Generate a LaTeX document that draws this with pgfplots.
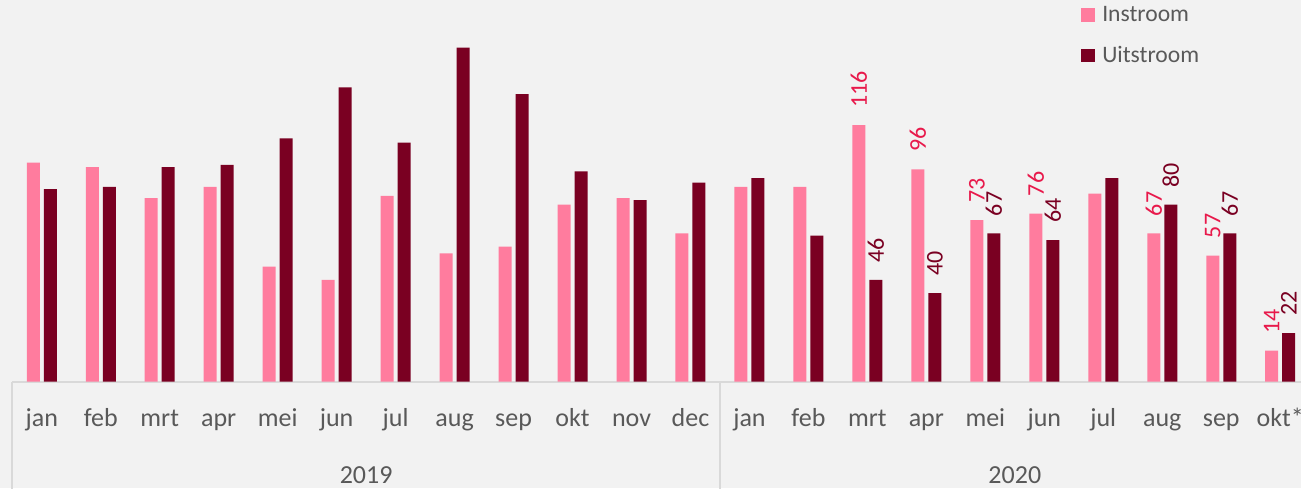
\documentclass[border=0pt]{standalone}
\usepackage{pgfplots}
\usepackage{pgfplotstable}
\pgfplotsset{compat=1.18}
\usepackage{fontspec}
\setmainfont{Carlito}
\definecolor{bg}{HTML}{F2F2F2}
\definecolor{pinkbar}{HTML}{FF7C9E}
\definecolor{darkbar}{HTML}{7A0022}
\definecolor{pinklab}{HTML}{E8194B}
\definecolor{darklab}{HTML}{7A0022}
\definecolor{txt}{HTML}{595959}
\definecolor{linec}{HTML}{D9D9D9}

\pgfplotstableread{
x in inl out outl
0 99 {} 87 {}
1 97 {} 88 {}
2 83 {} 97 {}
3 88 {} 98 {}
4 52 {} 110 {}
5 46 {} 133 {}
6 84 {} 108 {}
7 58 {} 151 {}
8 61 {} 130 {}
9 80 {} 95 {}
10 83 {} 82 {}
11 67 {} 90 {}
12 88 {} 92 {}
13 88 {} 66 {}
14 116 116 46 46
15 96 96 40 40
16 73 73 67 67
17 76 76 64 64
18 85 {} 92 {}
19 67 67 80 80
20 57 57 67 67
21 14 14 22 22
}\data

\begin{document}
\begin{tikzpicture}[font=\fontsize{13}{15}\selectfont]
\fill[bg] (0,0) rectangle (650.5pt,244pt);
\path[use as bounding box] (0,0) rectangle (650.5pt,244pt);
\clip (0,0) rectangle (650.5pt,244pt);
\begin{axis}[
  at={(6.15pt,53.15pt)}, anchor=south west,
  scale only axis,
  width=648.7pt, height=188.1pt,
  xmin=-0.5, xmax=21.5, ymin=0, ymax=170,
  ybar, bar width=6.5pt,
  axis y line=none,
  axis x line*=bottom,
  x axis line style={draw=linec, line width=0.8pt, -},
  xtick={0,...,21},
  xticklabels={jan,feb,mrt,apr,mei,jun,jul,aug,sep,okt,nov,dec,jan,feb,mrt,apr,mei,jun,jul,aug,sep,okt*},
  major tick length=0pt,
  xticklabel style={text=txt, anchor=base, yshift=-22.5pt, font=\fontsize{13}{15}\selectfont},
  clip=false,
  legend style={at={(0.819,1.021)}, anchor=north west, draw=none, fill=none,
    text=txt, row sep=6.9pt, font=\fontsize{11.8}{14}\selectfont,
    /tikz/every odd column/.append style={column sep=1.5pt}},
  legend cell align=left,
  legend image code/.code={\fill[#1] (0pt,-3.4pt) rectangle (7pt,3.4pt);},
  nodes near coords style={rotate=90, anchor=west, inner xsep=8.5pt, inner ysep=0pt, font=\fontsize{12}{14}\selectfont},
]
\addplot[fill=pinkbar, draw=none, bar shift=-4.25pt,
  point meta=explicit symbolic, nodes near coords,
  nodes near coords style={text=pinklab}]
  table[x=x, y=in, meta=inl] {\data};
\addlegendentry{Instroom}
\addplot[fill=darkbar, draw=none, bar shift=4.25pt,
  point meta=explicit symbolic, nodes near coords,
  nodes near coords style={text=darklab}]
  table[x=x, y=out, meta=outl] {\data};
\addlegendentry{Uitstroom}
\draw[linec, line width=0.8pt] (axis cs:-0.5,0) -- ++(0pt,-60pt);
\draw[linec, line width=0.8pt] (axis cs:11.5,0) -- ++(0pt,-60pt);
\draw[linec, line width=0.8pt] (axis cs:21.5,0) -- ++(0pt,-60pt);
\node[text=txt, anchor=base] at ([yshift=-50.75pt]axis cs:5.5,0) {2019};
\node[text=txt, anchor=base] at ([yshift=-50.75pt]axis cs:16.5,0) {2020};
\end{axis}
\end{tikzpicture}
\end{document}
